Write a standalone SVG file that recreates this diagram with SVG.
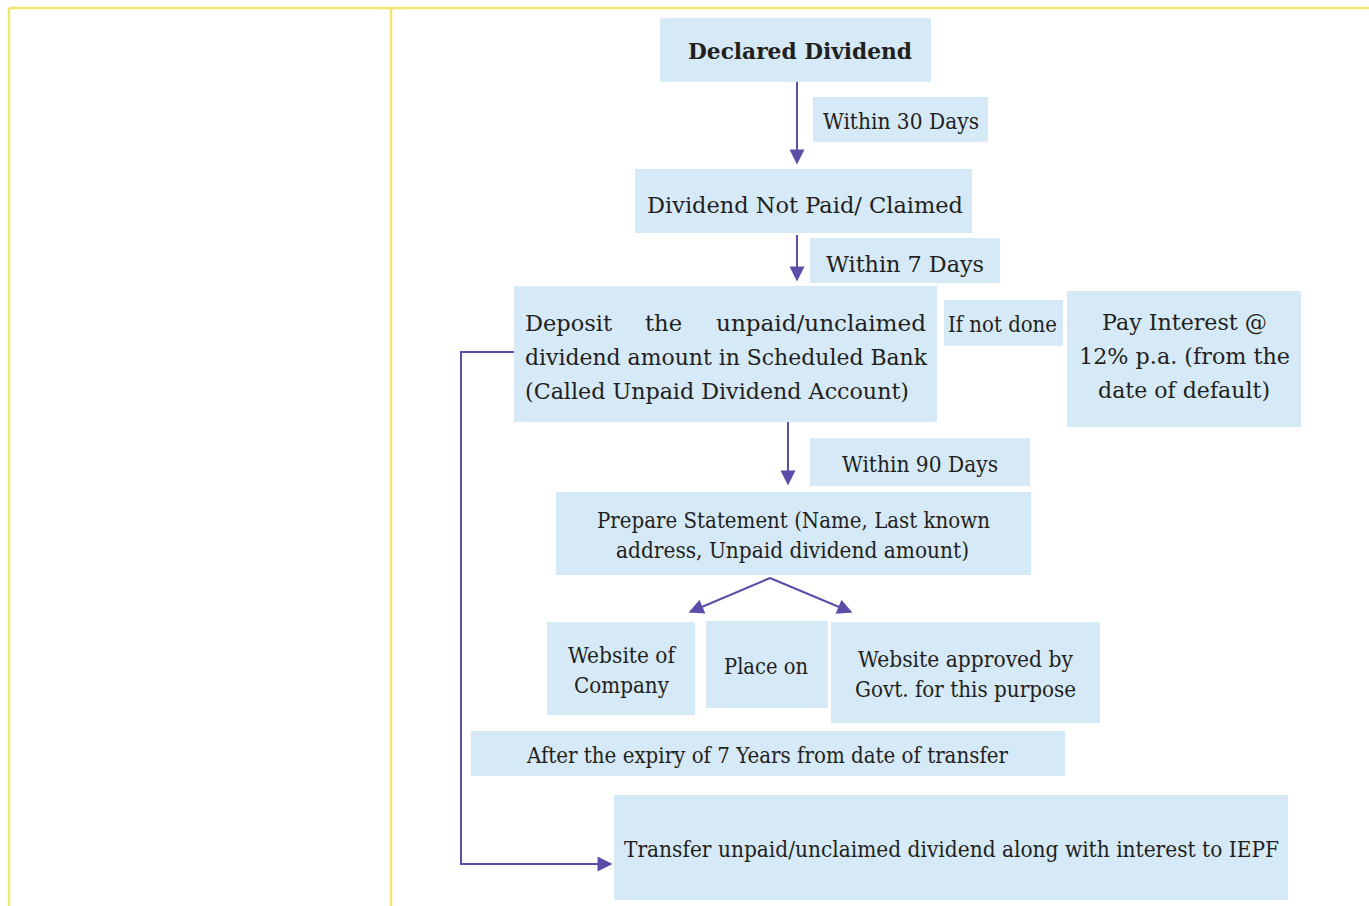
<svg xmlns="http://www.w3.org/2000/svg" width="1369" height="906" viewBox="0 0 1369 906">
  <style>
    .frame { fill: none; stroke: #f4e36c; stroke-width: 2.5; }
    .box { fill: #d6e9f6; }
    .t { font-family: "DejaVu Serif", "Liberation Serif", serif; fill: #231f20; font-size: 22px; }
    .b { font-weight: bold; }
    .link { fill: none; stroke: #5b4ea8; stroke-width: 2; }
  </style>
  <defs>
    <marker id="arrowL" viewBox="0 0 10 10" refX="9" refY="5" markerWidth="16" markerHeight="15" markerUnits="userSpaceOnUse" orient="auto">
      <path d="M0,0 L10,5 L0,10 z" fill="#5b4ea8"/>
    </marker>
  </defs>

  <!-- page frame -->
  <g id="frame">
    <line class="frame" x1="9" y1="8" x2="1369" y2="8"/>
    <line class="frame" x1="9" y1="8" x2="9" y2="906"/>
    <line class="frame" x1="391" y1="8" x2="391" y2="906"/>
  </g>

  <!-- connectors -->
  <g id="connectors">
    <line class="link" x1="797" y1="82" x2="797" y2="163" marker-end="url(#arrowL)"/>
    <line class="link" x1="797" y1="235" x2="797" y2="280" marker-end="url(#arrowL)"/>
    <line class="link" x1="788" y1="422" x2="788" y2="484" marker-end="url(#arrowL)"/>
    <polyline class="link" points="770,578 690,612" marker-end="url(#arrowL)"/>
    <polyline class="link" points="770,578 851,612" marker-end="url(#arrowL)"/>
    <polyline class="link" points="514,352 461,352 461,864 611,864" marker-end="url(#arrowL)"/>
  </g>

  <g id="declared">
    <rect class="box" x="660" y="18" width="271" height="64"/>
    <text class="t b" x="688" y="59" font-size="23" textLength="224" lengthAdjust="spacingAndGlyphs">Declared Dividend</text>
  </g>

  <g id="within30">
    <rect class="box" x="813" y="97" width="175" height="45"/>
    <text class="t" x="823" y="129" font-size="20.5" textLength="156" lengthAdjust="spacingAndGlyphs">Within 30 Days</text>
  </g>

  <g id="notpaid">
    <rect class="box" x="635" y="169" width="337" height="64"/>
    <text class="t" x="647" y="213" font-size="24.5" textLength="316" lengthAdjust="spacingAndGlyphs">Dividend Not Paid/ Claimed</text>
  </g>

  <g id="within7">
    <rect class="box" x="810" y="238" width="190" height="45"/>
    <text class="t" x="826" y="272" font-size="23.5" textLength="158" lengthAdjust="spacingAndGlyphs">Within 7 Days</text>
  </g>

  <g id="deposit">
    <rect class="box" x="514" y="286" width="423" height="136"/>
    <text class="t" x="525" y="331" font-size="24.5" textLength="87" lengthAdjust="spacingAndGlyphs">Deposit</text>
    <text class="t" x="645" y="331" font-size="24.5" textLength="37" lengthAdjust="spacingAndGlyphs">the</text>
    <text class="t" x="716" y="331" font-size="24.5" textLength="210" lengthAdjust="spacingAndGlyphs">unpaid/unclaimed</text>
    <text class="t" x="525" y="365" font-size="24.5" textLength="402" lengthAdjust="spacingAndGlyphs">dividend amount in Scheduled Bank</text>
    <text class="t" x="525" y="399" font-size="24.5" textLength="384" lengthAdjust="spacingAndGlyphs">(Called Unpaid Dividend Account)</text>
  </g>

  <g id="ifnotdone">
    <rect class="box" x="944" y="300" width="119" height="46"/>
    <text class="t" x="948" y="332" font-size="22" textLength="109" lengthAdjust="spacingAndGlyphs">If not done</text>
  </g>

  <g id="interest">
    <rect class="box" x="1067" y="291" width="234" height="136"/>
    <text class="t" x="1102" y="330" font-size="24.5" textLength="165" lengthAdjust="spacingAndGlyphs">Pay Interest @</text>
    <text class="t" x="1079" y="364" font-size="24.5" textLength="211" lengthAdjust="spacingAndGlyphs">12% p.a. (from the</text>
    <text class="t" x="1098" y="398" font-size="24.5" textLength="172" lengthAdjust="spacingAndGlyphs">date of default)</text>
  </g>

  <g id="within90">
    <rect class="box" x="810" y="438" width="220" height="48"/>
    <text class="t" x="842" y="472" font-size="20.5" textLength="156" lengthAdjust="spacingAndGlyphs">Within 90 Days</text>
  </g>

  <g id="statement">
    <rect class="box" x="556" y="492" width="475" height="83"/>
    <text class="t" x="597" y="528" font-size="20.5" textLength="393" lengthAdjust="spacingAndGlyphs">Prepare Statement (Name, Last known</text>
    <text class="t" x="616" y="558" font-size="20.5" textLength="353" lengthAdjust="spacingAndGlyphs">address, Unpaid dividend amount)</text>
  </g>

  <g id="company-site">
    <rect class="box" x="547" y="622" width="148" height="93"/>
    <text class="t" x="568" y="663" font-size="20.5" textLength="107" lengthAdjust="spacingAndGlyphs">Website of</text>
    <text class="t" x="574" y="693" font-size="20.5" textLength="95" lengthAdjust="spacingAndGlyphs">Company</text>
  </g>

  <g id="placeon">
    <rect class="box" x="706" y="621" width="122" height="87"/>
    <text class="t" x="724" y="674" font-size="20.5" textLength="84" lengthAdjust="spacingAndGlyphs">Place on</text>
  </g>

  <g id="govt-site">
    <rect class="box" x="831" y="622" width="269" height="101"/>
    <text class="t" x="858" y="667" font-size="20.5" textLength="215" lengthAdjust="spacingAndGlyphs">Website approved by</text>
    <text class="t" x="855" y="697" font-size="20.5" textLength="221" lengthAdjust="spacingAndGlyphs">Govt. for this purpose</text>
  </g>

  <g id="expiry">
    <rect class="box" x="471" y="731" width="594" height="45"/>
    <text class="t" x="527" y="763" font-size="21.5" textLength="481" lengthAdjust="spacingAndGlyphs">After the expiry of 7 Years from date of transfer</text>
  </g>

  <g id="transfer">
    <rect class="box" x="614" y="795" width="674" height="105"/>
    <text class="t" x="624" y="857" font-size="21.5" textLength="655" lengthAdjust="spacingAndGlyphs">Transfer unpaid/unclaimed dividend along with interest to IEPF</text>
  </g>
</svg>
